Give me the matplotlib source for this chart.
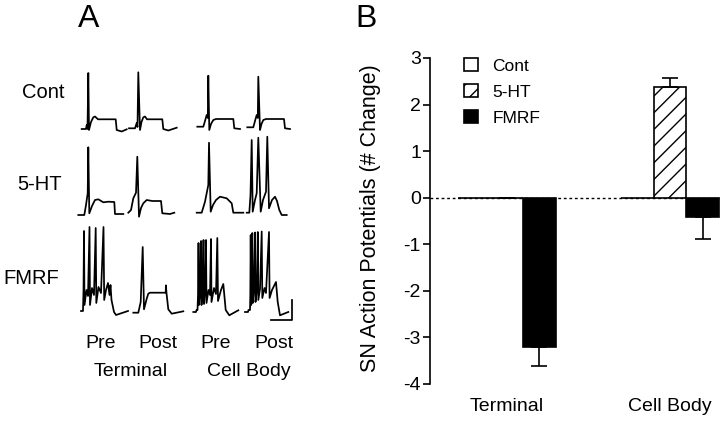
import numpy as np
import matplotlib.pyplot as plt

plt.rcParams['font.family'] = ['Liberation Sans', 'DejaVu Sans']
plt.rcParams['axes.unicode_minus'] = False

# ---- panel B data ----
sites = ['Terminal', 'Cell Body']
conditions = ['Cont', '5-HT', 'FMRF']
cont_change = [0.0, 0.0]
ht_change = [0.0, 2.37]
ht_err_up = [0.0, 0.21]
fmrf_change = [-3.21, -0.41]
fmrf_err_down = [0.40, 0.48]

# ---- panel A traces (time in px from trace start, voltage in px above baseline) ----
recordings = ['Pre', 'Post', 'Pre', 'Post']

cont_term_pre_t = [0.7, 5, 5.7, 6.5, 7.3, 8, 10, 12.3, 14, 17, 34.7, 35.7, 40.7, 45.7]
cont_term_pre_v = [0, 0, 4, 0, 56, -1, 7, 11.7, 12.5, 9.7, 9.7, -1, -2.5, -0.3]
cont_term_post_t = [0, 6, 7.7, 8.5, 9.3, 11, 12.5, 14.3, 16, 18, 33.3, 34.3, 39.3, 47.7]
cont_term_post_v = [0.7, 0.7, 6, 2, 56.7, -1, 7, 11.7, 12.5, 9.7, 9.7, 0, -1.5, 1.3]
cont_cell_pre_t = [1.3, 7.3, 9, 10.7, 11.8, 12.3, 13.3, 15, 17.3, 20, 37.3, 38.3, 44]
cont_cell_pre_v = [2.3, 2.3, 8, 14, 11, 53.3, -1, 5, 9, 10, 10, 0.7, 0]
cont_cell_post_t = [1.3, 7.3, 9, 10.7, 11.8, 12.3, 14, 15.5, 17.3, 20, 38, 39, 44]
cont_cell_post_v = [1.7, 1.7, 8, 14, 11, 52.3, -1, 5, 9, 10, 10, 0.7, 0]

ht_term_pre_t = [-2.7, 3.3, 5, 6.7, 7.3, 8.3, 11, 14, 17.3, 22.3, 27.3, 33.3, 34, 42.3]
ht_term_pre_v = [-1, -1, 9, 20.7, 66.7, 0.7, 8, 14, 14.7, 11.7, 12.3, 12, 0, 0]
ht_term_post_t = [-0.7, 2, 4.3, 7, 8.3, 10, 12, 14.3, 17.7, 23.3, 32, 33.3, 41, 45.3]
ht_term_post_v = [1.3, 4, 15.7, 21.3, 57.3, -2.7, 6, 10.7, 14, 13, 13, 0.7, 0, 1.3]
ht_cell_pre_t = [0.7, 5.7, 9, 12.3, 13, 14.7, 17, 20, 24, 30.7, 35.7, 37.3, 47.3]
ht_cell_pre_v = [1.3, 1.3, 12.3, 29, 71.3, 2.3, 9, 14, 17.3, 15.7, 10.7, 1.3, 1.3]
ht_cell_post_t = [0.7, 3.3, 4.5, 5.7, 6.7, 9, 10.7, 12.3, 14.7, 17, 20, 21.3, 23, 26,
                  29, 31, 33.3, 35.7, 40.7]
ht_cell_post_v = [1.3, 1.3, 19, 74, 2.3, 14, 20.7, 76.3, 2.3, 14, 22.3, 77.3, 5.7, 14,
                  17.3, 13, 4, -1, -1]

fmrf_term_pre_t = [0, 2, 2.5, 3, 3.5, 5.5, 7, 8.5, 9, 11, 13, 14.7, 15.3, 17.5, 20, 22.5,
                   23.2, 25, 27, 28.5, 29.5, 30.5, 33, 35, 41, 47]
fmrf_term_pre_v = [1, 1, 22, 81, 7, 22, 16, 85, 7, 24, 17, 84, 9, 25, 19, 85,
                   12, 22, 29, 17, 27, 12, 0, -3, -1, 1]
fmrf_term_post_t = [4.3, 9.3, 11.7, 13.7, 15, 17.7, 19.3, 21, 36.7, 36.9, 37.5, 39.3, 42.7, 54.3]
fmrf_term_post_v = [-0.7, -0.7, 10, 65, 2.7, 13.3, 18.3, 19.3, 19.3, 26.7, 19, 2.7, -1.7, 0.7]
fmrf_cell_pre_t = [-2.7, 0, 0.5, 1.5, 2, 2.5, 3, 4, 5, 5.5, 6.5, 7.5, 8, 9, 10, 10.5, 12.5,
                   14, 15, 15.5, 18, 20, 21.3, 22, 25, 27.3, 29.7, 33.3, 42.3]
fmrf_cell_pre_v = [0, 0, 2, 2, 17, 69, 7, 17, 71, 7, 19, 72, 8, 20, 72, 9, 22,
                   17, 73, 10, 24, 18, 74, 11, 22, 28, 2, -3.3, 1.7]
fmrf_cell_post_t = [-1, 2, 2.5, 4, 4.3, 4.7, 5.2, 6.3, 6.8, 7.8, 9, 9.5, 10.8, 11.8, 12.3,
                    14, 15.7, 16.3, 18.5, 20, 23, 23.6, 26, 30, 31.7, 34, 42.3]
fmrf_cell_post_v = [0, 0, 2, 2, 17, 77, 7, 79, 9, 20, 79.5, 10, 22, 80, 12,
                    23, 80.5, 14, 24, 19, 80, 14, 22, 30, 10, -3.3, 0]

traces = [
    [(cont_term_pre_t, cont_term_pre_v), (cont_term_post_t, cont_term_post_v),
     (cont_cell_pre_t, cont_cell_pre_v), (cont_cell_post_t, cont_cell_post_v)],
    [(ht_term_pre_t, ht_term_pre_v), (ht_term_post_t, ht_term_post_v),
     (ht_cell_pre_t, ht_cell_pre_v), (ht_cell_post_t, ht_cell_post_v)],
    [(fmrf_term_pre_t, fmrf_term_pre_v), (fmrf_term_post_t, fmrf_term_post_v),
     (fmrf_cell_pre_t, fmrf_cell_pre_v), (fmrf_cell_post_t, fmrf_cell_post_v)],
]

fig = plt.figure(figsize=(7.2, 4.24), dpi=100)

# panel A drawn in pixel coordinates
ax_a = fig.add_axes([0, 0, 1, 1])
ax_a.set_xlim(0, 720)
ax_a.set_ylim(424, 0)
ax_a.axis('off')

col_x0 = [81, 129, 196, 246]
row_y0 = [129, 214, 312]
row_label_x = [43, 40, 31]
row_label_y = [93, 185, 278]

for i, row in enumerate(traces):
    for j, (t, v) in enumerate(row):
        ax_a.plot(col_x0[j] + np.array(t), row_y0[i] - np.array(v), color='black',
                  lw=1.25, solid_joinstyle='round')
    ax_a.text(row_label_x[i], row_label_y[i], conditions[i], fontsize=14.5,
              ha='center', va='center')

# scale bar
ax_a.plot([270.7, 291.5, 291.5], [320, 320, 300], color='black', lw=1.25)

for xc, lab in zip([101, 158, 216, 274], recordings):
    ax_a.text(xc, 343.5, lab, fontsize=14, ha='center', va='center')
ax_a.text(131, 371.5, sites[0], fontsize=14, ha='center', va='center')
ax_a.text(248.5, 371.5, sites[1], fontsize=14, ha='center', va='center')

ax_a.text(88.5, 19, 'A', fontsize=23, ha='center', va='center')
ax_a.text(366, 19, 'B', fontsize=23, ha='center', va='center')

# panel B bar chart
ax_b = fig.add_axes([430 / 720, 40 / 424, 290 / 720, 326 / 424])
x = np.arange(len(sites))
w = 0.2
ebar = dict(ecolor='black', elinewidth=1.2, capsize=5.5, capthick=1.2)
ax_b.axhline(0, color='black', lw=1.0, ls=(0, (2, 2)), zorder=0.5)
ax_b.bar(x - w, cont_change, w, color='white', edgecolor='black', lw=1.2,
         label=conditions[0])
ax_b.bar(x, ht_change, w, color='white', edgecolor='black', lw=1.2, hatch='//',
         label=conditions[1], yerr=[np.zeros(2), ht_err_up], error_kw=ebar)
ax_b.bar(x + w, fmrf_change, w, color='black', edgecolor='black', lw=1.2,
         label=conditions[2], yerr=[fmrf_err_down, np.zeros(2)], error_kw=ebar)

ax_b.set_xlim(-0.4697, 1.306)
ax_b.set_ylim(-4, 3)
ax_b.set_yticks(range(-4, 4))
ax_b.set_xticks(x)
ax_b.set_xticklabels(sites, fontsize=14)
ax_b.tick_params(axis='x', length=0, pad=10)
ax_b.tick_params(axis='y', length=5, width=1.2, labelsize=14, pad=1.5)
for side in ['top', 'right', 'bottom']:
    ax_b.spines[side].set_visible(False)
ax_b.spines['left'].set_linewidth(1.2)
ax_b.set_ylabel('SN Action Potentials (# Change)', fontsize=15.5)
ax_b.yaxis.set_label_coords(-0.169, 0.51)

ax_b.legend(loc='upper left', bbox_to_anchor=(0.117, 1.0), frameon=False,
            fontsize=12.5, handlelength=0.8, handleheight=0.8, handletextpad=0.85,
            labelspacing=0.6, borderpad=0, borderaxespad=0)

fig.savefig('out.png', dpi=100)
